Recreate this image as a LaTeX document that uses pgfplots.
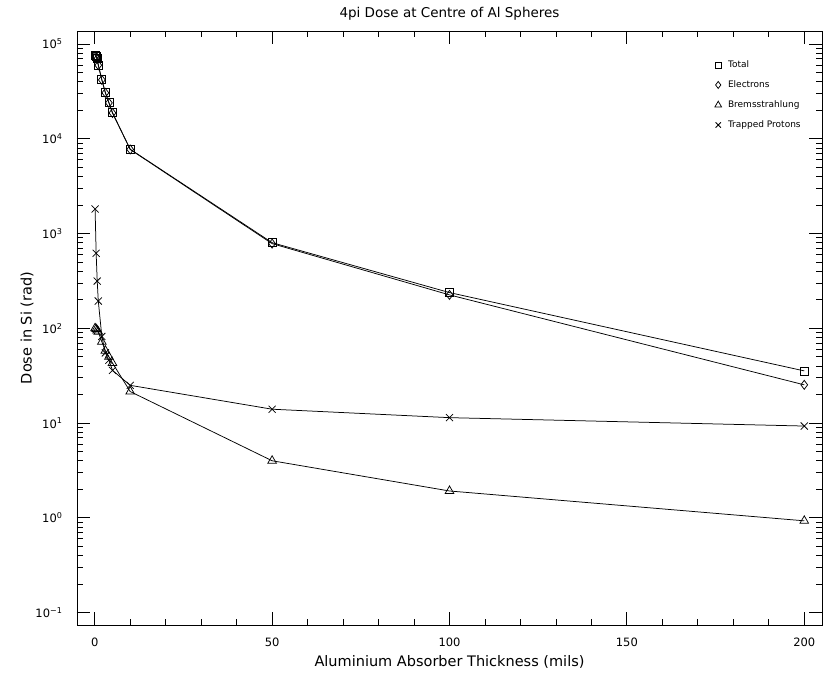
\documentclass[border=0pt]{standalone}
\usepackage{pgfplots}
\pgfplotsset{compat=1.18}
\usepackage{fontspec}
\setmainfont{DejaVu Sans}

\pgfplotstableread{
x total electrons brems protons
0.1 76000 74100 100 1815
0.4 74000 73300 98 618
0.7 70000 69600 95 315
1 60000 59700 92 194
2 42000 41800 72 82
3 30600 30500 58 55
4 24000 23900 50 46
5 18800 18700 43 36
10 7750 7700 21.5 25
50 800 782 4.0 14
100 238 225 1.92 11.4
200 35.5 25.3 0.93 9.3
}\dosetable

\begin{document}
\begin{tikzpicture}
\begin{axis}[
  width=745pt, height=594pt, scale only axis,
  xmin=-5, xmax=205,
  ymode=log, ymin=0.074, ymax=1.37e5,
  xtick={0,50,100,150,200}, minor x tick num=4,
  xticklabels={0,50,100,150,200},
  xticklabel pos=lower,
  ytick={0.1,1,10,100,1000,10000,100000},
  yticklabels={10\textsuperscript{−1},10\textsuperscript{0},10\textsuperscript{1},10\textsuperscript{2},10\textsuperscript{3},10\textsuperscript{4},10\textsuperscript{5}},
  major tick length=13pt, minor tick length=6.5pt,
  xticklabel style={font=\fontsize{11.5}{13}\selectfont, anchor=north, yshift=-9pt},
  yticklabel style={font=\fontsize{11.5}{13}\selectfont, xshift=-11pt},
  axis line style={line width=0.8pt},
  tick style={line width=0.8pt, black},
  xlabel={Aluminium Absorber Thickness (mils)},
  ylabel={Dose in Si (rad)},
  xlabel style={at={(axis description cs:0.5,-0.0623)}, anchor=center, font=\fontsize{14.5}{16}\selectfont},
  ylabel style={at={(axis description cs:-0.0671,0.5)}, anchor=center, font=\fontsize{14.5}{16}\selectfont},
  title={4pi Dose at Centre of Al Spheres},
  title style={at={(axis description cs:0.5,1.019)}, anchor=center, font=\fontsize{13.5}{15}\selectfont},
  legend style={draw=none, fill=none, at={(axis description cs:0.852,0.957)}, anchor=north west,
    font=\fontsize{9}{11}\selectfont, row sep=7.7pt, nodes={inner xsep=6.5pt}},
  legend cell align=left,
  legend image code/.code={\draw[#1] plot coordinates {(0pt,0pt)};},
  every axis plot/.append style={black, line width=0.75pt, mark options={solid, line width=0.75pt}},
]
\addplot[mark=square, mark size=4pt, forget plot] table[x=x,y=total] {\dosetable};
\addplot[mark=diamond, mark size=4.5pt, forget plot] table[x=x,y=electrons] {\dosetable};
\addplot[mark=triangle, mark size=5pt, forget plot] table[x=x,y=brems] {\dosetable};
\addplot[mark=x, mark size=5pt, forget plot] table[x=x,y=protons] {\dosetable};
\addlegendimage{only marks, mark=square, mark size=3pt, black, line width=0.75pt}
\addlegendentry{Total}
\addlegendimage{only marks, mark=diamond, mark size=3.5pt, black, line width=0.75pt}
\addlegendentry{Electrons}
\addlegendimage{only marks, mark=triangle, mark size=3.8pt, black, line width=0.75pt}
\addlegendentry{Bremsstrahlung}
\addlegendimage{only marks, mark=x, mark size=3.8pt, black, line width=0.75pt}
\addlegendentry{Trapped Protons}
\end{axis}
\pgfresetboundingbox
\path ([xshift=-77pt,yshift=-49pt]current axis.south west) rectangle ([xshift=3pt,yshift=31pt]current axis.north east);
\end{tikzpicture}
\end{document}
